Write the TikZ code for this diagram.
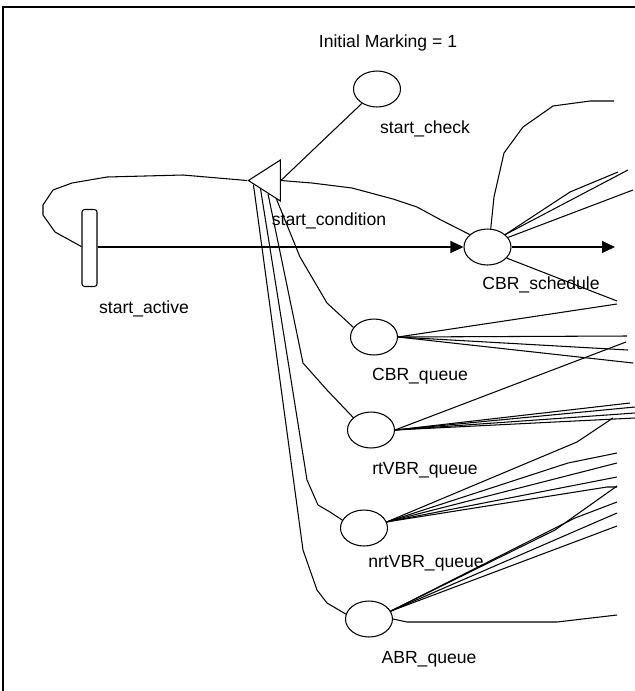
\documentclass[tikz,border=0pt]{standalone}
\usepackage{fontspec}
\setmainfont{Liberation Sans}
\usetikzlibrary{shapes.geometric,arrows.meta,calc}

\begin{document}
\begin{tikzpicture}[x=0.02cm,y=-0.02cm,line width=0.6pt,
  place/.style={draw,ellipse,minimum width=0.94cm,minimum height=0.72cm,inner sep=0pt},
  trans/.style={draw,rectangle,rounded corners=1.5pt,minimum width=0.3cm,minimum height=1.54cm,inner sep=0pt},
  cond/.style={draw,isosceles triangle,shape border rotate=180,isosceles triangle stretches,
    minimum width=0.82cm,minimum height=0.64cm,inner sep=0pt},
  lbl/.style={font=\fontsize{10}{12}\selectfont,inner sep=0pt},
  arr/.style={-{Triangle[length=0.26cm,width=0.24cm]}}]
  \useasboundingbox (0,0) rectangle (635,691);
  \draw (3,691) |- (635,7);

  \node[trans] (active) at (89.5,248) {};
  \node[cond,anchor=apex] (cond) at (247,180.5) {};
  \node[place] (check) at (377,89) {};
  \node[place] (sched) at (487.5,247) {};
  \node[place] (cbrq) at (374,337) {};
  \node[place] (rtq) at (371,430) {};
  \node[place] (nrtq) at (364,528) {};
  \node[place] (abrq) at (369,619) {};

  \node[lbl] (marking) at (388,43) {Initial Marking = 1};
  \node[lbl] (check lbl) at (425,129) {start\_check};
  \node[lbl] (cond lbl) at (329,221) {start\_condition};
  \node[lbl] (active lbl) at (144,309) {start\_active};
  \node[lbl] (sched lbl) at (541,285) {CBR\_schedule};
  \node[lbl] (cbrq lbl) at (420,376) {CBR\_queue};
  \node[lbl] (rtq lbl) at (425,470) {rtVBR\_queue};
  \node[lbl] (nrtq lbl) at (426,563) {nrtVBR\_queue};
  \node[lbl] (abrq lbl) at (429,659) {ABR\_queue};

  % arcs leaving the sheet on the right
  \foreach \n/\x/\y in {s1/614/101, s2/618/172, s3/628/170, s4/633/190, s5/617/301, s6/615/247,
      c1/617/304, c2/627/336, c3/628/350, c4/633/363,
      r1/626/342, r2/630/403, r3/635/407, r4/635/413, r5/635/418,
      n1/613/418, n2/617/453, n3/617/463, n4/617/477, n5/617/487,
      a1/617/486, a2/617/502, a3/617/513, a4/617/526, a5/617/615}
    \coordinate (out \n) at (\x,\y);

  \draw[arr] (active.east |- sched) -- (sched);
  \draw[arr] (sched) -- (out s6);
  \draw (check) -- (cond.east);
  \draw (active.170) -- (55,232) -- (43,215) -- (43,205) -- (53,190) -- (72,183)
    -- (107,177) -- (183,175) -- (cond.apex);
  \draw (sched.145) -- (441,220) -- (417,207) -- (393,199) -- (352,188) -- (312,183) -- (cond.east);

  \draw ($(cond.apex)!.87!(cond.left corner)$) -- (300,257) -- (327,303) -- (cbrq.155);
  \draw ($(cond.apex)!.62!(cond.left corner)$) -- (303,363) -- (327,390) -- (rtq.145);
  \draw ($(cond.apex)!.4!(cond.left corner)$) -- (307,480) -- (318,505) -- (330,512) -- (nrtq.160);
  \draw ($(cond.apex)!.19!(cond.left corner)$) -- (303,550) -- (317,590) -- (327,603) -- (abrq.168);

  \draw (sched.80) -- (494,197) -- (504,153) -- (523,127) -- (553,106) -- (590,101) -- (out s1);
  \draw (sched.35) -- (570,192) -- (out s2);
  \draw (sched.35) -- (out s3);
  \draw (sched.25) -- (out s4);
  \draw (sched.-30) -- (out s5);

  \foreach \i in {1,...,4}
    \draw (cbrq.east) -- (out c\i);
  \foreach \i in {1,...,5}
    \draw (rtq.east) -- (out r\i);

  \draw (nrtq.15) -- (577,442) -- (out n1);
  \draw (nrtq.15) -- (568,463) -- (out n2);
  \draw (nrtq.15) -- (out n3);
  \draw (nrtq.15) -- (out n4);
  \draw (nrtq.15) -- (607,487) -- (out n5);

  \draw (abrq.20) -- (555,530) -- (out a1);
  \draw (abrq.20) -- (575,518) -- (out a2);
  \draw (abrq.20) -- (out a3);
  \draw (abrq.20) -- (out a4);
  \draw (abrq.east) -- (407,622) -- (557,622) -- (out a5);
\end{tikzpicture}
\end{document}
